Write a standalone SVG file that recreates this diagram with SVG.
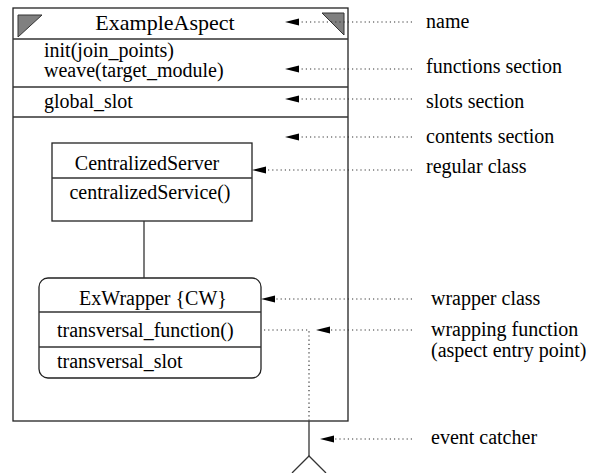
<svg xmlns="http://www.w3.org/2000/svg" width="590" height="473" viewBox="0 0 590 473">
<defs>
<style>
.t{font-family:"Liberation Serif","Times New Roman",serif;font-size:20px;fill:#000}
.c{text-anchor:middle}
.box{fill:#fff;stroke:#222;stroke-width:1.3}
.ln{stroke:#333;stroke-width:1.3;fill:none}
.dot{stroke:#333;stroke-width:1.2;stroke-dasharray:1.2 3;fill:none}
.tri{fill:#808080;stroke:#333;stroke-width:1}
</style>
</defs>
<rect width="590" height="473" fill="#fff"/>

<g id="aspect">
<rect class="box" x="13" y="8" width="335" height="413"/>
<line class="ln" x1="13" y1="39" x2="348" y2="39"/>
<line class="ln" x1="13" y1="87" x2="348" y2="87"/>
<line class="ln" x1="13" y1="117" x2="348" y2="117"/>
<polygon class="tri" points="18,15 42,15 18,37"/>
<polygon class="tri" points="322,13 344,13 344,35"/>
<text class="t c" x="165" y="30" style="font-size:22px">ExampleAspect</text>
<text class="t" x="44" y="57">init(join_points)</text>
<text class="t" x="44" y="77">weave(target_module)</text>
<text class="t" x="44" y="108">global_slot</text>
</g>

<g id="centralized-server">
<rect class="box" x="52" y="143" width="200" height="78"/>
<line class="ln" x1="52" y1="178" x2="252" y2="178"/>
<text class="t c" x="147" y="170">CentralizedServer</text>
<text class="t c" x="150" y="199">centralizedService()</text>
</g>

<g id="ex-wrapper">
<rect class="box" x="39" y="278" width="222" height="100" rx="9" ry="9"/>
<line class="ln" x1="39" y1="312" x2="261" y2="312"/>
<line class="ln" x1="39" y1="347" x2="261" y2="347"/>
<text class="t c" x="153" y="305">ExWrapper {CW}</text>
<text class="t" x="57" y="337">transversal_function()</text>
<text class="t" x="57" y="368">transversal_slot</text>
</g>

<g id="event-catcher">
<line class="ln" x1="309" y1="421" x2="309" y2="456"/>
<polyline class="ln" points="292,473 309,456 326,473"/>
</g>

<g id="labels">
<text class="t" x="426" y="28">name</text>
<text class="t" x="426" y="73">functions section</text>
<text class="t" x="426" y="108">slots section</text>
<text class="t" x="426" y="143">contents section</text>
<text class="t" x="426" y="173">regular class</text>
<text class="t" x="431" y="305">wrapper class</text>
<text class="t" x="431" y="336">wrapping function</text>
<text class="t" x="431" y="357">(aspect entry point)</text>
<text class="t" x="431" y="444">event catcher</text>
</g>

<g id="connectors">
<line class="ln" x1="144" y1="221" x2="144" y2="278"/>
<line class="dot" x1="412" y1="22" x2="299" y2="22"/>
<path d="M285,22 L299,18.5 L299,25.5 Z"/>
<line class="dot" x1="412" y1="69" x2="299" y2="69"/>
<path d="M285,69 L299,65.5 L299,72.5 Z"/>
<line class="dot" x1="412" y1="99" x2="299" y2="99"/>
<path d="M285,99 L299,95.5 L299,102.5 Z"/>
<line class="dot" x1="412" y1="137" x2="299" y2="137"/>
<path d="M285,137 L299,133.5 L299,140.5 Z"/>
<line class="dot" x1="412" y1="170" x2="266" y2="170"/>
<path d="M252,170 L266,166.5 L266,173.5 Z"/>
<line class="dot" x1="412" y1="299" x2="275" y2="299"/>
<path d="M261,299 L275,295.5 L275,302.5 Z"/>
<polyline class="dot" points="264,330 309,330 309,421"/>
<line class="dot" x1="412" y1="330" x2="330" y2="330"/>
<path d="M316,330 L330,326.5 L330,333.5 Z"/>
<line class="dot" x1="412" y1="439" x2="334" y2="439"/>
<path d="M320,439 L334,435.5 L334,442.5 Z"/>
</g>
</svg>
